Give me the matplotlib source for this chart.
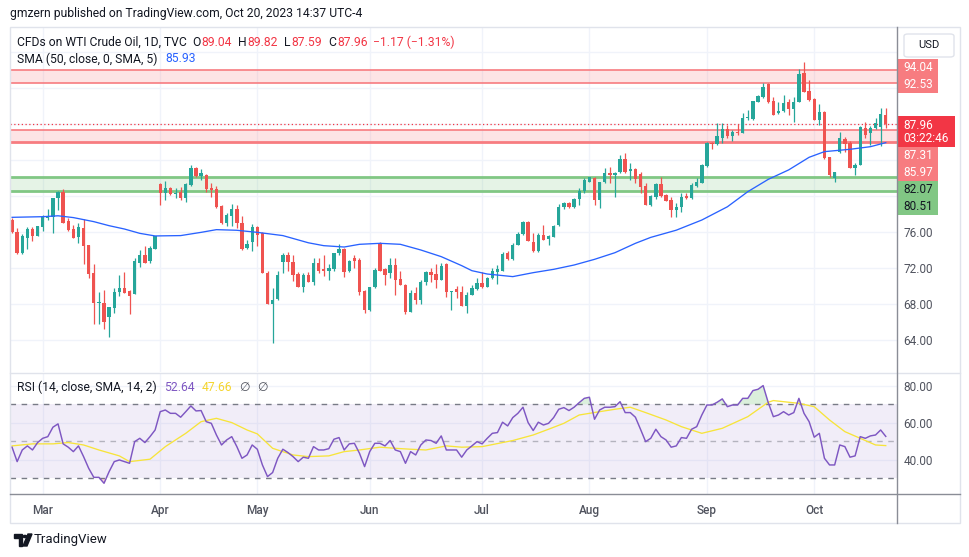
import numpy as np
import pandas as pd
import matplotlib
matplotlib.use('Agg')
import matplotlib.pyplot as plt
from matplotlib.lines import Line2D
from matplotlib.patches import Rectangle, FancyBboxPatch, Polygon, Circle

plt.rcParams['font.family'] = ['Roboto', 'DejaVu Sans']

# ---------------- data ----------------
dates = pd.bdate_range('2023-02-21', '2023-10-20').drop(
    pd.to_datetime(['2023-04-07', '2023-05-29']))

opens = [
    77.33, 76.03, 73.7, 75.3, 76.33, 75.6,
    76.6, 77.5, 77.7, 79.74, 80.4, 77.2, 76.3, 75.48,
    76.4, 74.56, 71.4, 68.1, 68.15,
    66.5, 67.6, 69.3, 69.74, 69.4,
    69.1, 72.6, 73.4, 72.8, 74.1,
    81.33, 80.3, 80.85, 80.19,
    80.4, 79.74, 81.2, 83.07, 82.26,
    82.33, 80.93, 80.74, 78.9, 76.96,
    77.8, 78.56, 76.96, 74.26, 74.85,
    76.6, 75.85, 71.4, 67.96, 68.5,
    72.63, 73.44, 72.63, 71.33, 69.93,
    71.2, 70.41, 72.52, 71.85, 71.7,
    71.89, 73.63, 74.1, 71.67, 73.15,
    72.89, 69.44, 67.33, 69.93,
    74.74, 71.89, 71.41, 72.33, 70.78,
    70.11, 67.15, 69.19, 68.44, 70.41,
    71.52, 71.3, 70.67, 72.41, 69.3,
    69.67, 69.37, 67.78, 69.0, 69.63,
    70.3, 69.93, 70.85, 71.59, 71.7,
    73.7, 72.96, 74.56, 75.78, 77.15,
    74.93, 73.93, 75.67, 75.19, 75.48,
    76.78, 78.74, 79.19, 78.74, 79.63,
    80.59, 81.59, 81.96, 79.56, 81.59,
    82.59, 82.33, 82.7, 84.11, 82.81,
    82.96, 82.44, 81.11, 79.0, 79.85,
    81.33, 80.11, 79.56, 78.44, 78.74,
    80.0, 79.74, 81.11, 81.48, 83.33,
    85.93, 85.78, 86.41, 87.41, 86.67,
    87.15, 87.04, 88.63, 88.52, 90.48,
    91.04, 92.41, 90.56, 89.19, 89.44,
    90.41, 89.67, 90.41, 93.63, 91.67,
    90.78, 88.44, 89.3, 84.3, 82.04,
    84.9, 86.33, 85.85, 83.07, 83.44,
    87.59, 86.96, 87.59, 87.7, 89.04,
]
highs = [
    77.5, 76.4, 75.8, 76.6, 76.6, 76.7,
    77.9, 78.6, 79.8, 80.6, 80.8, 77.5, 76.8, 76.96,
    77.4, 74.6, 72.4, 69.3, 69.56,
    67.7, 69.8, 71.2, 71.6, 69.5,
    73.1, 74.0, 74.4, 74.4, 75.6,
    81.4, 81.67, 81.04, 80.85,
    81.0, 81.4, 83.44, 83.26, 83.0,
    82.5, 81.4, 81.15, 79.0, 78.07,
    79.1, 79.0, 77.8, 75.1, 76.9,
    76.7, 76.03, 71.67, 69.74, 71.67,
    73.63, 73.74, 73.44, 71.6, 71.4,
    71.6, 73.07, 73.07, 73.44, 72.4,
    73.63, 74.63, 74.26, 72.89, 73.44,
    73.07, 69.5, 69.93, 72.04,
    74.93, 72.04, 73.15, 73.07, 71.67,
    70.2, 69.56, 69.93, 70.67, 71.67,
    72.04, 72.41, 72.52, 72.52, 69.45,
    70.04, 70.0, 69.37, 70.1, 70.85,
    71.59, 71.04, 71.96, 72.33, 73.81,
    73.93, 74.81, 76.04, 77.26, 77.26,
    75.93, 75.93, 76.78, 75.67, 76.78,
    79.11, 79.3, 79.37, 79.74, 80.85,
    81.96, 82.15, 82.15, 81.6, 83.07,
    83.26, 82.7, 84.56, 84.74, 83.63,
    83.07, 82.7, 81.4, 80.1, 81.4,
    82.07, 80.2, 79.85, 79.19, 80.3,
    80.3, 81.4, 81.96, 83.56, 86.04,
    86.04, 88.07, 88.07, 87.89, 87.33,
    88.0, 89.26, 89.56, 90.6, 91.2,
    92.52, 92.52, 91.04, 90.48, 91.22,
    90.78, 91.04, 94.11, 94.93, 92.89,
    90.93, 90.19, 89.44, 84.37, 82.7,
    87.15, 86.59, 86.11, 83.63, 87.81,
    88.26, 87.81, 88.63, 89.74, 89.82,
]
lows = [
    75.85, 73.6, 73.6, 74.1, 75.03, 75.6,
    76.1, 77.3, 75.85, 78.4, 77.0, 76.1, 75.3, 74.8,
    72.4, 70.85, 65.74, 65.74, 65.2,
    64.37, 66.96, 68.9, 69.2, 66.85,
    69.1, 72.1, 72.6, 72.6, 74.1,
    79.0, 79.56, 80.1, 79.74,
    79.6, 79.37, 81.1, 82.15, 81.78,
    80.48, 79.93, 78.63, 76.9, 76.7,
    76.7, 76.4, 74.0, 74.1, 73.9,
    74.48, 71.4, 67.96, 63.63, 68.44,
    71.4, 71.67, 70.56, 69.93, 69.37,
    70.4, 70.1, 71.4, 71.15, 70.67,
    71.67, 73.44, 71.04, 71.59, 72.04,
    69.0, 67.04, 67.2, 69.8,
    71.67, 70.1, 70.93, 69.0, 70.11,
    66.85, 67.07, 67.96, 67.96, 70.1,
    70.41, 69.81, 70.67, 68.81, 67.33,
    68.63, 67.78, 67.04, 69.0, 69.56,
    69.74, 69.9, 70.74, 70.22, 71.7,
    72.89, 72.9, 74.5, 75.7, 75.0,
    73.81, 73.8, 75.1, 74.56, 75.4,
    76.7, 78.52, 78.63, 78.7, 79.0,
    80.3, 81.5, 79.0, 78.63, 81.4,
    81.4, 79.93, 82.6, 82.59, 81.78,
    81.4, 80.37, 79.0, 78.9, 79.63,
    79.93, 79.48, 77.63, 77.63, 78.26,
    79.63, 79.63, 80.96, 81.4, 83.26,
    85.19, 85.7, 85.85, 86.41, 86.15,
    86.78, 87.0, 88.44, 88.4, 90.4,
    90.85, 90.37, 89.0, 89.07, 89.3,
    89.0, 88.26, 90.4, 91.52, 90.56,
    88.4, 87.89, 84.11, 82.15, 81.52,
    84.8, 84.93, 83.1, 82.33, 83.4,
    86.41, 85.67, 87.5, 85.59, 87.59,
]
closes = [
    76.03, 73.7, 75.6, 76.33, 75.6, 76.67,
    77.7, 77.7, 79.8, 80.4, 77.0, 76.2, 75.37, 76.5,
    74.48, 71.3, 68.1, 68.2, 66.03,
    67.7, 69.37, 69.74, 69.26, 68.9,
    72.8, 73.4, 72.6, 74.2, 75.56,
    80.3, 80.85, 80.19, 80.37,
    79.74, 81.3, 83.07, 82.26, 82.52,
    80.78, 80.67, 78.74, 76.96, 77.9,
    78.56, 76.96, 74.1, 74.63, 76.6,
    75.67, 71.4, 67.96, 68.44, 71.2,
    73.44, 72.63, 71.2, 69.93, 71.2,
    70.41, 72.52, 71.67, 71.7, 72.04,
    73.63, 74.1, 71.59, 72.78, 72.78,
    69.37, 67.33, 69.93, 71.78,
    71.67, 71.22, 72.33, 70.67, 70.11,
    67.07, 69.19, 68.44, 70.41, 71.52,
    71.22, 70.67, 72.22, 69.37, 69.37,
    69.37, 67.78, 69.0, 69.74, 70.37,
    69.85, 70.93, 71.7, 71.85, 73.56,
    72.96, 74.56, 75.78, 77.15, 75.04,
    73.93, 75.67, 75.11, 75.56, 76.67,
    78.74, 79.26, 78.74, 79.63, 80.59,
    81.78, 82.07, 79.56, 81.59, 82.52,
    82.33, 82.59, 84.11, 82.7, 82.96,
    81.85, 80.96, 79.0, 80.0, 81.33,
    80.0, 79.48, 78.44, 78.81, 79.93,
    79.74, 81.22, 81.59, 83.44, 85.85,
    85.78, 86.67, 87.41, 86.67, 87.15,
    87.04, 88.63, 88.81, 90.59, 91.15,
    92.15, 90.48, 89.0, 89.44, 90.3,
    89.67, 90.48, 93.56, 91.59, 90.67,
    88.44, 89.3, 84.26, 82.33, 82.7,
    86.5, 85.74, 83.15, 83.44, 87.7,
    86.78, 87.59, 88.07, 89.07, 87.96,
]

# SMA(50) line, read at sample bars
sma_bar = [0, 6, 9, 12, 16, 19, 22, 25, 28, 33, 37, 40, 44, 48, 53, 58, 61, 65,
           68, 72, 76, 80, 84, 88, 90, 93, 98, 102, 106, 110, 114, 118, 122, 125,
           130, 135, 140, 144, 148, 152, 156, 159, 164, 168, 171]
sma_val = [77.63, 77.7, 77.8, 77.6, 77.15, 76.7, 76.33, 75.85, 75.56, 75.6, 75.96,
           76.26, 76.19, 75.96, 75.6, 74.8, 74.48, 74.33, 74.63, 74.74, 74.63, 74.0,
           73.26, 72.26, 71.7, 71.33, 71.04, 71.48, 71.85, 72.33, 72.96, 73.7, 74.74,
           75.4, 76.2, 77.33, 78.8, 80.48, 81.85, 82.9, 84.3, 84.93, 85.19, 85.48, 85.93]

rsi = [
    46.8, 39.0, 45.3, 47.5, 45.3, 49.3, 51.6, 52.5, 57.6, 59.4,
    48.6, 46.8, 44.4, 47.5, 41.7, 35.4, 30.5, 30.5, 27.3, 33.6,
    39.0, 39.9, 39.0, 38.1, 49.8, 51.6, 49.3, 52.5, 56.1, 66.0,
    66.9, 65.1, 65.1, 63.0, 66.0, 69.1, 66.4, 66.6, 60.6, 59.7,
    53.4, 48.0, 50.7, 52.5, 47.1, 40.8, 42.6, 48.0, 45.7, 37.2,
    30.9, 33.1, 40.8, 45.7, 43.9, 41.7, 39.0, 41.4, 40.8, 47.1,
    45.3, 45.3, 46.0, 51.1, 52.0, 45.3, 48.6, 48.9, 43.5, 36.3,
    44.4, 48.9, 48.9, 47.5, 50.4, 45.3, 44.4, 38.1, 44.4, 42.6,
    48.0, 50.7, 50.4, 48.9, 52.9, 45.3, 45.3, 45.3, 41.4, 45.3,
    47.5, 49.8, 48.6, 51.6, 54.3, 54.7, 60.3, 58.3, 62.8, 65.1,
    68.4, 60.1, 55.8, 60.3, 58.8, 59.7, 62.8, 67.3, 68.2, 66.6,
    68.4, 70.9, 73.2, 73.8, 61.9, 66.9, 68.4, 68.4, 68.7, 71.4,
    65.5, 65.5, 63.0, 56.5, 49.8, 51.6, 56.5, 52.5, 50.7, 46.8,
    47.5, 52.0, 51.6, 56.5, 57.9, 64.2, 69.6, 69.6, 71.1, 72.9,
    68.7, 69.6, 69.6, 73.2, 73.2, 77.4, 78.1, 80.1, 70.9, 63.3,
    64.2, 66.0, 64.2, 65.5, 73.2, 65.1, 60.6, 52.2, 54.3, 40.8,
    37.2, 37.2, 48.0, 47.1, 41.4, 42.1, 52.5, 51.6, 52.9, 53.4,
    56.1, 52.64,
]
rsi_ma_bar = [0, 4, 8, 11, 14, 17, 21, 23, 27, 30, 34, 37, 40, 43, 46, 48, 51, 55,
              58, 62, 65, 68, 72, 75, 78, 81, 85, 88, 92, 98, 102, 105, 108, 111,
              115, 118, 121, 124, 128, 131, 135, 139, 144, 148, 149, 154, 157, 160,
              163, 166, 169, 171]
rsi_ma = [47.5, 48.6, 48.6, 49.3, 48.0, 45.3, 42.1, 39.0, 40.3, 47.1, 54.3, 60.6,
          62.4, 60.1, 56.1, 54.0, 46.2, 42.6, 41.7, 42.1, 44.4, 45.3, 46.8, 46.2,
          45.7, 45.3, 47.5, 46.8, 47.1, 50.4, 53.4, 56.5, 59.7, 64.2, 66.0, 67.3,
          68.4, 65.5, 61.5, 57.9, 54.3, 57.0, 63.3, 71.1, 72.0, 70.5, 68.7, 61.5,
          55.2, 51.6, 48.0, 47.66]

red_zones = [(92.53, 94.04), (85.97, 87.31)]
green_zone = (80.51, 82.07)
last_close = 87.96

# ---------------- figure ----------------
W, H = 970, 557
fig = plt.figure(figsize=(W / 100, H / 100), dpi=100)
fig.patch.set_facecolor('white')


def box(l, t, r, b):
    return [l / W, 1 - b / H, (r - l) / W, (b - t) / H]


def hl(y, x0, x1, **kw):
    fig.add_artist(Line2D([x0 / W, x1 / W], [1 - y / H, 1 - y / H],
                          transform=fig.transFigure, **kw))


def vl(x, y0, y1, **kw):
    fig.add_artist(Line2D([x / W, x / W], [1 - y0 / H, 1 - y1 / H],
                          transform=fig.transFigure, **kw))


GREEN, RED = '#26a69a', '#ef5350'
GRID = '#f0f3fa'
TXT = '#131722'
AXT = '#50535e'

ax = fig.add_axes(box(10, 28, 897, 372))
rx = fig.add_axes(box(10, 373, 897, 494), sharex=ax)

x = np.arange(len(dates))
o, h, l, c = (np.array(v) for v in (opens, highs, lows, closes))
cols = np.where(c >= o, GREEN, RED)
ax.vlines(x, l, h, colors=cols, lw=0.9, zorder=4)
body = np.maximum(np.abs(c - o), 0.09)
ax.bar(x, body, bottom=np.minimum(o, c), width=0.66, color=cols, lw=0, zorder=5)

ax.plot(sma_bar, sma_val, color='#2962ff', lw=0.95, zorder=6)

for lo, hi in red_zones:
    ax.axhspan(lo, hi, color='#f77c80', alpha=0.2, lw=0, zorder=1)
    ax.axhline(hi, color='#f77c80', lw=1.2, zorder=2)
    ax.axhline(lo, color='#f77c80', lw=1.2 if lo > 90 else 2.0, zorder=2)
ax.axhspan(*green_zone, color='#81c784', alpha=0.2, lw=0, zorder=1)
for v in green_zone:
    ax.axhline(v, color='#81c784', lw=2.0, zorder=2)
ax.axhline(last_close, color='#f23645', lw=0.9, ls=(0, (1, 2)), zorder=3)

month_start = [i for i in range(1, len(dates)) if dates[i].month != dates[i - 1].month]

ax.set_xlim(-0.4, 173.2)
ax.set_ylim(60.44, 98.67)
pticks = np.arange(64, 97, 4)
ax.set_yticks(pticks)
ax.set_yticklabels([f'{v:.2f}' if v < 80 else '' for v in pticks])
ax.yaxis.tick_right()
ax.tick_params(axis='y', length=0, pad=4.6, labelsize=8.5, labelcolor=AXT)
ax.tick_params(axis='x', length=0, labelbottom=False)
ax.set_xticks(month_start)
ax.grid(color=GRID, lw=1)
ax.set_axisbelow(True)
for s in ax.spines.values():
    s.set_visible(False)

# RSI pane
rsi_a = np.array(rsi)
rx.axhspan(30, 70, color='#7e57c2', alpha=0.1, lw=0, zorder=1)
rx.axhline(70, color='#787b86', lw=1, ls=(0, (4, 4)), zorder=2)
rx.axhline(30, color='#787b86', lw=1, ls=(0, (4, 4)), zorder=2)
rx.axhline(50, color='#787b86', lw=1, ls=(0, (4, 4)), alpha=0.5, zorder=2)
rx.fill_between(x, rsi_a, 70, where=rsi_a > 70, interpolate=True,
                color='#4caf50', alpha=0.2, lw=0, zorder=2)
rx.fill_between(x, rsi_a, 30, where=rsi_a < 30, interpolate=True,
                color='#f23645', alpha=0.2, lw=0, zorder=2)
rx.plot(rsi_ma_bar, rsi_ma, color='#f7e43a', lw=0.95, zorder=3)
rx.plot(x, rsi_a, color='#7e57c2', lw=1.05, zorder=4)
rx.set_ylim(21.5, 86.9)
rx.set_yticks([40, 60, 80])
rx.set_yticklabels(['40.00', '60.00', '80.00'])
rx.yaxis.tick_right()
rx.tick_params(axis='y', length=0, pad=4.6, labelsize=8.5, labelcolor=AXT)
rx.set_xticks(month_start)
rx.set_xticklabels([dates[i].strftime('%b') for i in month_start])
rx.tick_params(axis='x', length=0, pad=7, labelsize=8.5, labelcolor=AXT)
for t in rx.get_xticklabels():
    t.set_fontweight('medium')
rx.grid(color=GRID, lw=1)
rx.set_axisbelow(True)
for s in rx.spines.values():
    s.set_visible(False)

# frame and axis lines
fig.add_artist(Rectangle((10 / W, 1 - 523 / H), 950 / W, 496 / H, fill=False,
                         ec='#e0e3eb', lw=1, transform=fig.transFigure))
hl(373, 10, 960, color='#e0e3eb', lw=1)
hl(494, 10, 960, color='#8a8d96', lw=1)
vl(897, 27, 523, color='#8a8d96', lw=1)

# price labels on the right axis, stacked like the platform does
groups = [
    (['94.04', '92.53'], [94.04, 92.53], '#f77c80', 'white', 41),
    (['87.96', '03:22:46'], [last_close], '#f23645', 'white', 58),
    (['87.31', '85.97'], [87.31, 85.97], '#f77c80', 'white', 41),
    (['82.07', '80.51'], [82.07, 80.51], '#81c784', TXT, 41),
]
prev_bottom = -1e9
for texts, vals, bg, fg, bw in groups:
    ys = [H - ax.transData.transform((0, v))[1] for v in vals]
    if len(vals) == 1:
        hgt, top = 31, ys[0] - 8
    else:
        hgt = 34
        top = np.mean(ys) - hgt / 2
    top = max(top, prev_bottom)
    if len(vals) == 1:
        rows = [top + 9, top + 22.5]
    else:
        rows = [top + 8.5, top + 25.5]
    fig.add_artist(Rectangle((897 / W, 1 - (top + hgt) / H), bw / W, hgt / H,
                             color=bg, lw=0, transform=fig.transFigure))
    for s, yy in zip(texts, rows):
        fig.text(903.5 / W, 1 - yy / H, s, color=fg, fontsize=8.5,
                 ha='left', va='center')
    prev_bottom = top + hgt

# USD box
fig.add_artist(FancyBboxPatch((904 / W, 1 - 57 / H), 50 / W, 23 / H,
                              boxstyle='round,pad=0,rounding_size=0.004',
                              fill=False, ec='#e0e3eb', lw=1,
                              transform=fig.transFigure))
fig.text(929 / W, 1 - 45.5 / H, 'USD', fontsize=8, color=TXT, ha='center', va='center')

# header texts
fig.canvas.draw()
rend = fig.canvas.get_renderer()


def row(x0, y0, parts, size=8.7):
    xx = x0
    for s, col, gap in parts:
        t = fig.text(xx / W, 1 - y0 / H, s, color=col, fontsize=size,
                     ha='left', va='center')
        xx += t.get_window_extent(rend).width + gap


fig.text(10 / W, 1 - 13 / H, 'gmzern published on TradingView.com, Oct 20, 2023 14:37 UTC-4',
         fontsize=8.7, color=TXT, ha='left', va='center')

VR = '#f23645'
row(17.5, 42.5, [('CFDs on WTI Crude Oil, 1D, TVC', TXT, 5), ('O', TXT, 1),
                 ('89.04', VR, 6), ('H', TXT, 1), ('89.82', VR, 6),
                 ('L', TXT, 1), ('87.59', VR, 6), ('C', TXT, 1),
                 ('87.96', VR, 5), ('\u22121.17 (\u22121.31%)', VR, 0)])
row(17.5, 59, [('SMA (50, close, 0, SMA, 5)', TXT, 7), ('85.93', '#2962ff', 0)])
row(17.5, 387.5, [('RSI (14, close, SMA, 14, 2)', TXT, 7), ('52.64', '#7e57c2', 7),
                  ('47.66', '#f5d52e', 7), ('\u2205', AXT, 7), ('\u2205', AXT, 0)])

# bottom logo
lk = '#131722'
fig.add_artist(Polygon([(14 / W, 1 - 534 / H), (22 / W, 1 - 534 / H), (22 / W, 1 - 546 / H),
                        (18.5 / W, 1 - 546 / H), (18.5 / W, 1 - 538 / H), (14 / W, 1 - 538 / H)],
                       closed=True, color=lk, transform=fig.transFigure))
fig.add_artist(Circle((25 / W, 1 - 536.5 / H), 1.9 / W, color=lk, transform=fig.transFigure))
fig.add_artist(Polygon([(28 / W, 1 - 534 / H), (32 / W, 1 - 534 / H), (27 / W, 1 - 546 / H),
                        (23 / W, 1 - 546 / H)], closed=True, color=lk,
                       transform=fig.transFigure))
fig.text(34 / W, 1 - 540 / H, 'TradingView', fontsize=9.5, color=lk, ha='left', va='center')

fig.savefig('out.png', dpi=100)
